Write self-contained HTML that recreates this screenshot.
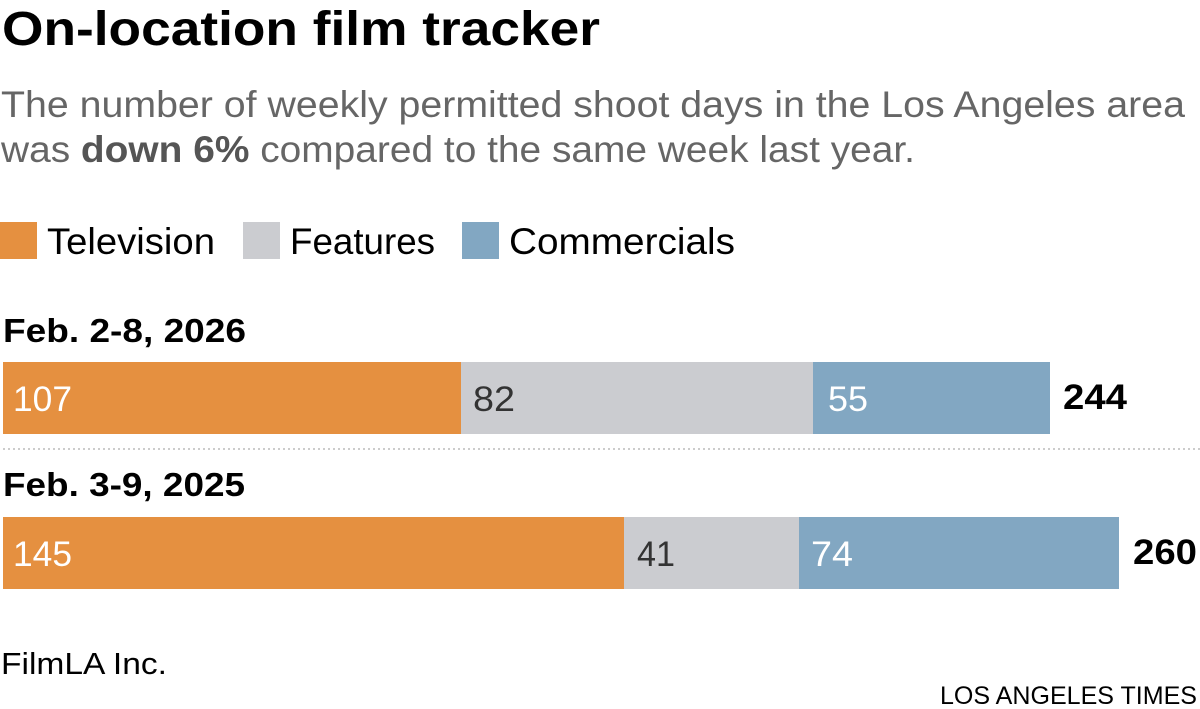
<!DOCTYPE html>
<html><head><meta charset="utf-8"><style>
html,body{margin:0;padding:0;background:#fff;}
svg{display:block;font-family:"Liberation Sans",sans-serif;}
</style></head><body>
<svg width="1200" height="709" viewBox="0 0 1200 709" xmlns="http://www.w3.org/2000/svg">
<text x="2" y="45" font-size="48" font-weight="bold" fill="#000" textLength="598" lengthAdjust="spacingAndGlyphs">On-location film tracker</text>
<text x="1" y="117" font-size="37" fill="#666" textLength="1184" lengthAdjust="spacingAndGlyphs">The number of weekly permitted shoot days in the Los Angeles area</text>
<text x="1" y="162" font-size="37" fill="#666" textLength="914" lengthAdjust="spacingAndGlyphs">was <tspan font-weight="bold" fill="#555">down 6%</tspan> compared to the same week last year.</text>
<rect x="0" y="222" width="37" height="37" fill="#e59040"/>
<text x="47" y="254" font-size="37" fill="#000" textLength="168" lengthAdjust="spacingAndGlyphs">Television</text>
<rect x="243" y="222" width="37" height="37" fill="#cbccd0"/>
<text x="290" y="254" font-size="37" fill="#000" textLength="145" lengthAdjust="spacingAndGlyphs">Features</text>
<rect x="462" y="222" width="37" height="37" fill="#82a7c2"/>
<text x="509" y="254" font-size="37" fill="#000" textLength="226" lengthAdjust="spacingAndGlyphs">Commercials</text>
<text x="3" y="342" font-size="33" font-weight="bold" fill="#000" textLength="243" lengthAdjust="spacingAndGlyphs">Feb. 2-8, 2026</text>
<rect x="3" y="362" width="458" height="72" fill="#e59040"/>
<rect x="461" y="362" width="352" height="72" fill="#cbccd0"/>
<rect x="813" y="362" width="237" height="72" fill="#82a7c2"/>
<text x="13" y="411" font-size="35" fill="#fff" textLength="59" lengthAdjust="spacingAndGlyphs">107</text>
<text x="473" y="411" font-size="35" fill="#333" textLength="42" lengthAdjust="spacingAndGlyphs">82</text>
<text x="828" y="411" font-size="35" fill="#fff" textLength="40" lengthAdjust="spacingAndGlyphs">55</text>
<text x="1063" y="409" font-size="35" font-weight="bold" fill="#000" textLength="64" lengthAdjust="spacingAndGlyphs">244</text>
<line x1="3" y1="449" x2="1200" y2="449" stroke="#ccc" stroke-width="2" stroke-dasharray="2,3"/>
<text x="3" y="496" font-size="33" font-weight="bold" fill="#000" textLength="242" lengthAdjust="spacingAndGlyphs">Feb. 3-9, 2025</text>
<rect x="3" y="517" width="621" height="72" fill="#e59040"/>
<rect x="624" y="517" width="175" height="72" fill="#cbccd0"/>
<rect x="799" y="517" width="320" height="72" fill="#82a7c2"/>
<text x="13" y="566" font-size="35" fill="#fff" textLength="59" lengthAdjust="spacingAndGlyphs">145</text>
<text x="637" y="566" font-size="35" fill="#333" textLength="38" lengthAdjust="spacingAndGlyphs">41</text>
<text x="811" y="566" font-size="35" fill="#fff" textLength="42" lengthAdjust="spacingAndGlyphs">74</text>
<text x="1133" y="564" font-size="35" font-weight="bold" fill="#000" textLength="64" lengthAdjust="spacingAndGlyphs">260</text>
<text x="1" y="674" font-size="31" fill="#000" textLength="166" lengthAdjust="spacingAndGlyphs">FilmLA Inc.</text>
<text x="1197" y="704" font-size="25" fill="#000" text-anchor="end" textLength="257" lengthAdjust="spacingAndGlyphs">LOS ANGELES TIMES</text>
</svg>
</body></html>
